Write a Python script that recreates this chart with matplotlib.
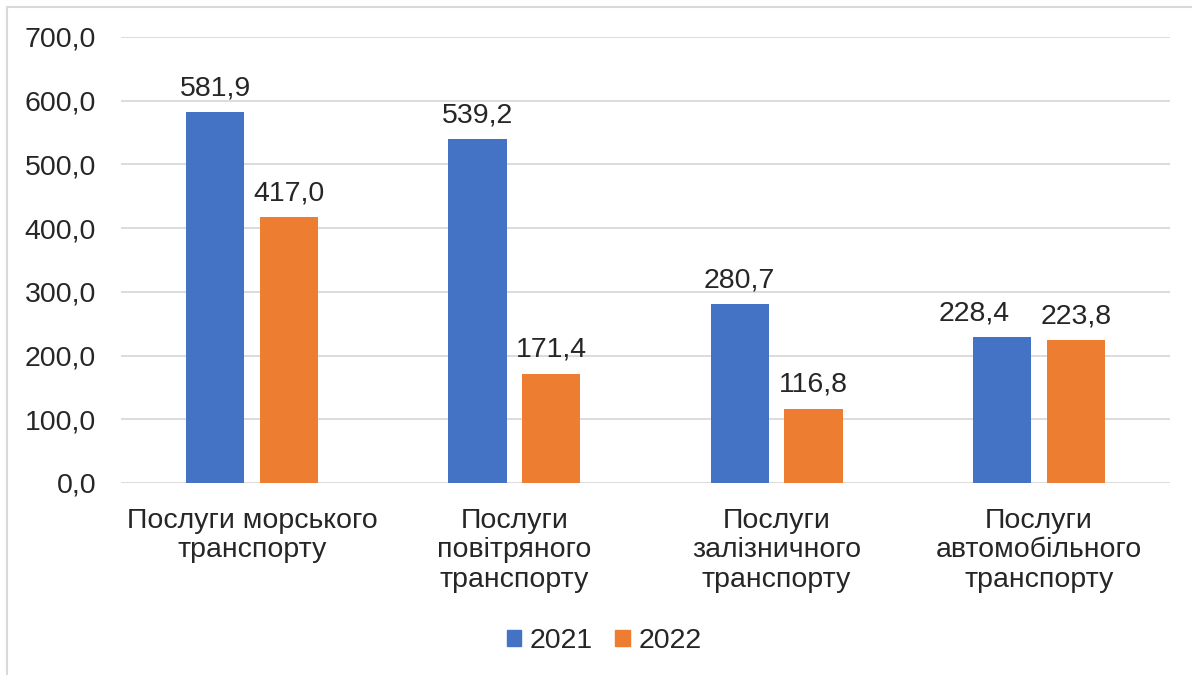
import matplotlib.pyplot as plt
from matplotlib.patches import Patch, Rectangle
from matplotlib.ticker import FuncFormatter
import numpy as np

# Data
categories = [
    "Послуги морського\nтранспорту",
    "Послуги\nповітряного\nтранспорту",
    "Послуги\nзалізничного\nтранспорту",
    "Послуги\nавтомобільного\nтранспорту",
]
values_2021 = [581.9, 539.2, 280.7, 228.4]
values_2022 = [417.0, 171.4, 116.8, 223.8]
series_labels = ["2021", "2022"]

blue = "#4472C4"
orange = "#ED7D31"
text_color = "#262626"
grid_color = "#d9d9d9"
fs = 20.5

plt.rcParams['font.family'] = ['Liberation Sans', 'DejaVu Sans']
plt.rcParams['font.size'] = fs

fig = plt.figure(figsize=(11.92, 6.75), dpi=100)
ax = fig.add_axes([121 / 1192, 1 - 483 / 675, (1170 - 121) / 1192, (483 - 37) / 675])

x = np.arange(len(categories))
bar_w = 0.222
offset = 0.141

def comma(v):
    return f"{v:.1f}".replace('.', ',')

b1 = ax.bar(x - offset, values_2021, bar_w, color=blue, zorder=3)
b2 = ax.bar(x + offset, values_2022, bar_w, color=orange, zorder=3)

t1 = ax.bar_label(b1, labels=[comma(v) for v in values_2021], padding=8, color=text_color, fontsize=fs)
t2 = ax.bar_label(b2, labels=[comma(v) for v in values_2022], padding=8, color=text_color, fontsize=fs)
# last pair of labels would overlap, the 2021 one is pushed to the left like in Excel
t1[3].xyann = (-20, 8)

ax.set_xlim(-0.5, len(categories) - 0.5)
ax.set_ylim(0, 700)
ax.set_yticks(np.arange(0, 701, 100))
ax.yaxis.set_major_formatter(FuncFormatter(lambda v, p: comma(v)))
ax.set_xticks(x)
ax.set_xticklabels(categories, linespacing=1.17)

ax.grid(axis='y', color=grid_color, linewidth=1.3, zorder=0)
for s in ax.spines.values():
    s.set_visible(False)
ax.tick_params(axis='both', length=0, colors=text_color, labelsize=fs)
ax.tick_params(axis='y', pad=18)
ax.tick_params(axis='x', pad=18)

# legend
handles = [Patch(color=blue), Patch(color=orange)]
fig.legend(handles, series_labels, loc='center', bbox_to_anchor=(604 / 1192, 1 - 641 / 675),
           ncol=2, frameon=False, handlelength=0.5, handleheight=0.5,
           handletextpad=0.3, columnspacing=0.8, labelcolor=text_color, fontsize=fs)

# chart border (partly cut off in the reference)
fig.patches.append(Rectangle((7 / 1192, -0.1), 1.2, 1.1 - 7 / 675, transform=fig.transFigure,
                             fill=False, edgecolor=grid_color, linewidth=1.5))

fig.savefig("out.png", dpi=100)
